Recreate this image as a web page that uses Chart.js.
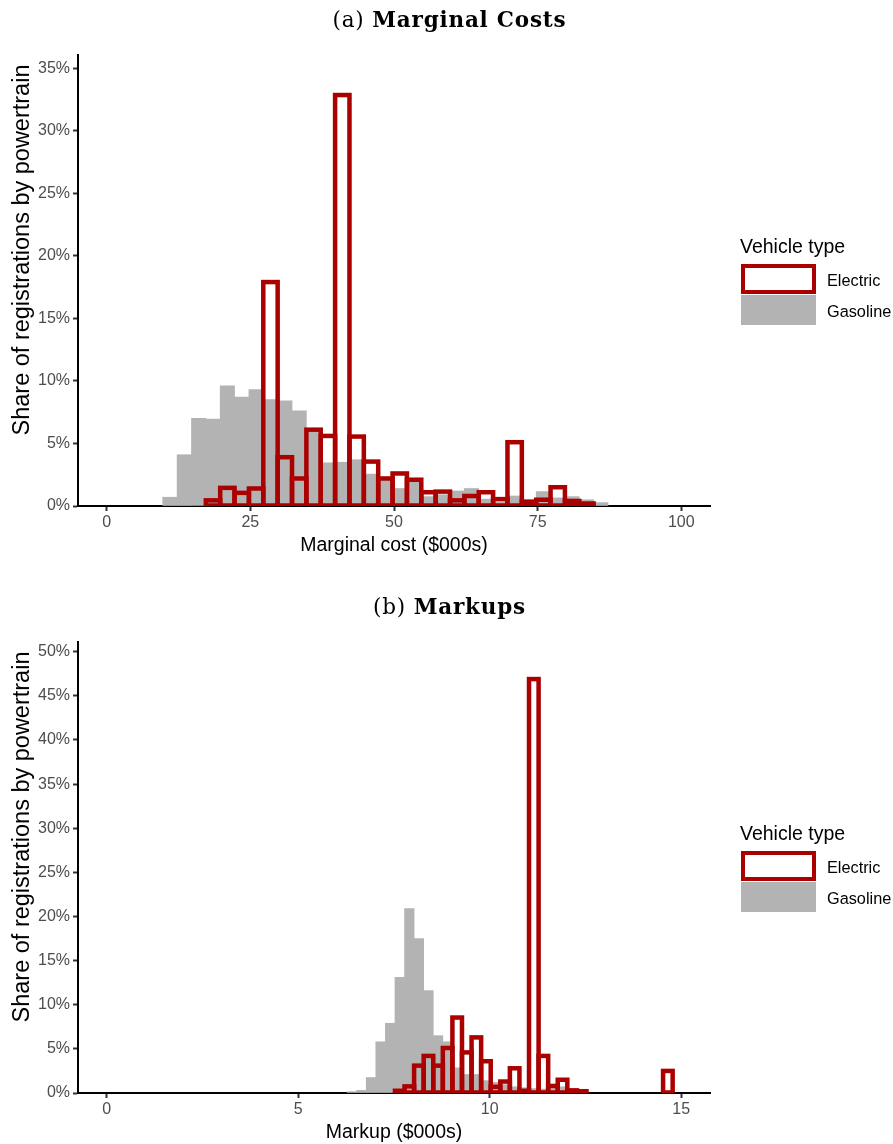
<!DOCTYPE html>
<html>
<head>
<meta charset="utf-8">
<script src="https://cdn.jsdelivr.net/npm/chart.js@4.4.1/dist/chart.umd.min.js"></script>
<style>
    body { margin: 0; background: #fff; }
    #page { position: relative; width: 893px; height: 1144px; overflow: hidden; font-family: "Liberation Sans", Arial, sans-serif; }
    .panel { position: absolute; left: 0; width: 893px; height: 572px; }
    .panel canvas { position: absolute; left: 0; top: 0; }
    .ptitle { position: absolute; left: 3px; top: 8px; width: 893px; text-align: center; line-height: 24px;
              font-family: "DejaVu Serif", serif; font-size: 21.5px; letter-spacing: 0.8px; color: #000; }
    .ytitle { position: absolute; left: -179px; top: 237px; width: 400px; height: 26px; line-height: 26px;
              text-align: center; font-size: 23.5px; color: #000; transform: rotate(-90deg); white-space: nowrap; }
    .ltitle { position: absolute; left: 740px; top: 235.5px; line-height: 20px; font-size: 19.5px; color: #000; }
    .lkey { position: absolute; left: 741px; width: 75px; height: 30px; box-sizing: border-box; }
    .lkey.ev { top: 264px; border: 4.5px solid #aa0000; background: #fff; }
    .lkey.gas { top: 295px; background: #b3b3b3; }
    .llab { position: absolute; left: 827px; line-height: 20px; font-size: 16.3px; color: #000; }
</style>
</head>
<body>
<div id="page">
    <div class="panel" style="top:0px">
        <canvas id="mcChart" width="893" height="557"></canvas>
        <div class="ptitle">(a) <b>Marginal Costs</b></div>
        <div class="ytitle">Share of registrations by powertrain</div>
        <div class="ltitle">Vehicle type</div>
        <div class="lkey ev"></div>
        <div class="lkey gas"></div>
        <div class="llab" style="top:270px">Electric</div>
        <div class="llab" style="top:301px">Gasoline</div>
    </div>
    <div class="panel" style="top:587px">
        <canvas id="muChart" width="893" height="557"></canvas>
        <div class="ptitle">(b) <b>Markups</b></div>
        <div class="ytitle">Share of registrations by powertrain</div>
        <div class="ltitle">Vehicle type</div>
        <div class="lkey ev"></div>
        <div class="lkey gas"></div>
        <div class="llab" style="top:270px">Electric</div>
        <div class="llab" style="top:301px">Gasoline</div>
    </div>
</div>
<script>
// (a) marginal cost, $000s -- bin centres and share (%) per powertrain
const mcGasBins = [11, 13.5, 16, 18.5, 21, 23.5, 26, 28.5, 31, 33.5, 36, 38.5, 41, 43.5, 46, 48.5,
                   51, 53.5, 56, 58.5, 61, 63.5, 66, 68.5, 71, 73.5, 76, 78.5, 81, 83.5, 86];
const mcGasShare = [0.7, 4.1, 7.0, 6.95, 9.6, 8.7, 9.3, 8.5, 8.4, 7.6, 5.9, 3.45, 3.5, 3.7, 2.55, 2.3,
                    1.4, 1.95, 0.75, 0.9, 1.2, 1.4, 0.55, 0.3, 0.8, 0.2, 1.15, 0.65, 0.75, 0.5, 0.27];
const mcEvBins = [18.5, 21, 23.5, 26, 28.5, 31, 33.5, 36, 38.5, 41, 43.5, 46, 48.5, 51,
                  53.5, 56, 58.5, 61, 63.5, 66, 68.5, 71, 73.5, 76, 78.5, 81, 83.5];
const mcEvShare = [0.45, 1.45, 1.05, 1.4, 17.9, 3.9, 2.2, 6.1, 5.6, 32.85, 5.55, 3.55, 2.2, 2.6,
                   2.1, 1.1, 1.15, 0.45, 0.8, 1.1, 0.55, 5.1, 0.35, 0.5, 1.5, 0.4, 0.2];
const mcTicksX = [0, 25, 50, 75, 100];
const mcTicksY = [0, 5, 10, 15, 20, 25, 30, 35];

// (b) markup, $000s
const muGasBins = [6.4, 6.65, 6.9, 7.15, 7.4, 7.65, 7.9, 8.15, 8.4, 8.65, 8.9, 9.15, 9.4,
                   9.65, 9.9, 10.15, 10.4, 10.65, 10.9, 11.15, 11.4, 11.65, 11.9, 12.15, 12.4];
const muGasShare = [0.15, 0.3, 1.75, 5.8, 7.9, 13.1, 20.9, 17.5, 11.6, 6.5, 5.8, 2.85, 2.1,
                    2.1, 1.4, 1.2, 0.95, 0.7, 0.6, 0.5, 0.45, 0.6, 0.7, 0.2, 0.1];
const muEvBins = [7.65, 7.9, 8.15, 8.4, 8.65, 8.9, 9.15, 9.4, 9.65, 9.9, 10.15,
                  10.4, 10.65, 10.9, 11.15, 11.4, 11.65, 11.9, 12.15, 12.4, 14.65];
const muEvShare = [0.25, 0.75, 3.1, 4.2, 3.1, 5.1, 8.55, 4.6, 6.3, 3.6, 0.7,
                   1.3, 2.8, 0.25, 46.9, 4.2, 0.8, 1.5, 0.3, 0.2, 2.5];
const muTicksX = [0, 5, 10, 15];
const muTicksY = [0, 5, 10, 15, 20, 25, 30, 35, 40, 45, 50];

const EV_RED = '#aa0000';
const GAS_GREY = '#b3b3b3';

Chart.defaults.font.family = '"Liberation Sans", Arial, sans-serif';

const pairUp = (xs, ys) => xs.map((x, i) => ({ x: x, y: ys[i] }));

// ggplot style outline: stroke centred on the bin edges so neighbours share one line
const binOutline = {
    id: 'binOutline',
    afterDatasetsDraw(chart) {
        const ctx = chart.ctx;
        const area = chart.chartArea;
        chart.data.datasets.forEach((ds, i) => {
            if (!ds.outlineColor) return;
            ctx.save();
            ctx.beginPath();
            ctx.rect(area.left, area.top - 6, area.right - area.left, area.bottom - area.top + 6);
            ctx.clip();
            ctx.strokeStyle = ds.outlineColor;
            ctx.lineWidth = 4.5;
            chart.getDatasetMeta(i).data.forEach(bar => {
                ctx.strokeRect(bar.x - bar.width / 2, bar.y, bar.width, bar.base - bar.y);
            });
            ctx.restore();
        });
    }
};

const drawHist = (canvasId, o) => new Chart(document.getElementById(canvasId), {
    type: 'bar',
    data: {
        datasets: [{
            label: 'Electric',
            data: pairUp(o.evBins, o.ev),
            backgroundColor: 'rgba(0,0,0,0)',
            borderWidth: 0,
            outlineColor: EV_RED,
            grouped: false
        }, {
            label: 'Gasoline',
            data: pairUp(o.gasBins, o.gas),
            backgroundColor: GAS_GREY,
            borderWidth: 0,
            grouped: false
        }]
    },
    options: {
        responsive: false,
        animation: false,
        layout: { padding: { top: 55, right: 183, bottom: 0, left: 0 } },
        datasets: { bar: { categoryPercentage: 1, barPercentage: 1 } },
        plugins: { legend: { display: false }, tooltip: { enabled: false } },
        scales: {
            x: {
                type: 'linear',
                min: o.xMin,
                max: o.xMax,
                offset: false,
                afterBuildTicks: s => { s.ticks = o.xTicks.map(v => ({ value: v })); },
                afterFit: s => { s.height = 51; },
                grid: { drawOnChartArea: false, offset: false, tickLength: 5, tickWidth: 2, tickColor: '#333333' },
                border: { color: '#000000', width: 2 },
                ticks: { color: '#4d4d4d', font: { size: 16 }, padding: 2, maxRotation: 0 },
                title: { display: true, text: o.xTitle, color: '#000000', font: { size: 19.5 }, padding: { top: 0, bottom: 0 } }
            },
            y: {
                min: 0,
                max: o.yMax,
                afterBuildTicks: s => { s.ticks = o.yTicks.map(v => ({ value: v })); },
                afterFit: s => { s.width = 78; },
                grid: { drawOnChartArea: false, tickLength: 5, tickWidth: 2, tickColor: '#333333' },
                border: { color: '#000000', width: 2 },
                ticks: { color: '#4d4d4d', font: { size: 16 }, padding: 3, callback: v => v + '%' }
            }
        }
    },
    plugins: [binOutline]
});

drawHist('mcChart', {
    gasBins: mcGasBins, gas: mcGasShare, evBins: mcEvBins, ev: mcEvShare,
    xMin: -5, xMax: 105, xTicks: mcTicksX, yMax: 36.05, yTicks: mcTicksY,
    xTitle: 'Marginal cost ($000s)'
});

drawHist('muChart', {
    gasBins: muGasBins, gas: muGasShare, evBins: muEvBins, ev: muEvShare,
    xMin: -0.75, xMax: 15.75, xTicks: muTicksX, yMax: 51.1, yTicks: muTicksY,
    xTitle: 'Markup ($000s)'
});
</script>
</body>
</html>
